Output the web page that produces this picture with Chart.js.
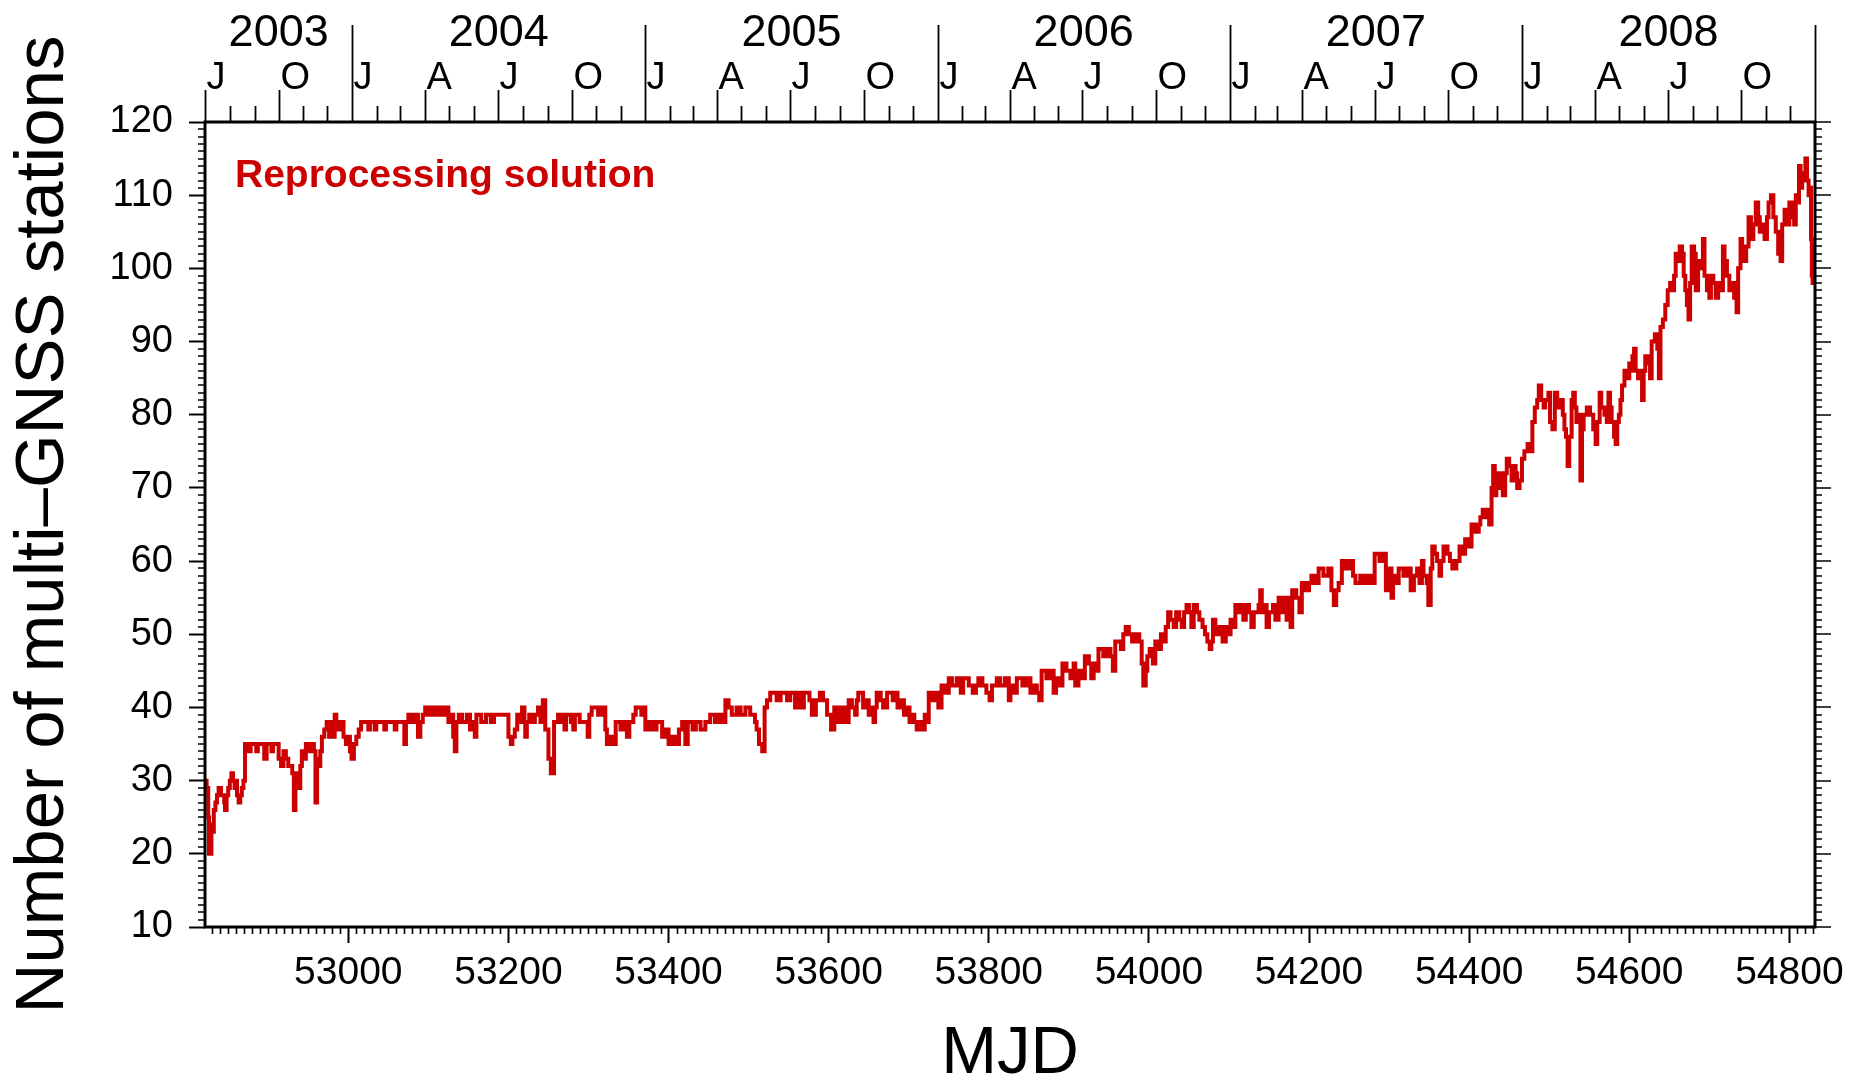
<!DOCTYPE html>
<html>
<head>
<meta charset="utf-8">
<script src="https://cdn.jsdelivr.net/npm/chart.js@4.4.1/dist/chart.umd.min.js"></script>
<style>
  html, body { margin: 0; padding: 0; background: #ffffff; }
  canvas { display: block; }
</style>
</head>
<body>
<canvas id="c" width="1862" height="1080"></canvas>
<script>
// ---------------- data ----------------
const mjd = [
  // 2003-07 .. 2004-08
  52821,52823,52825,52826,52829,52831,52832,52834,52836,52838,
  52841,52845,52846,52848,52850,52852,52854,52856,52858,52860,
  52861,52863,52865,52867,52869,52871,52876,52878,52885,52887,
  52895,52898,52904,52906,52913,52916,52919,52922,52925,52930,
  52932,52934,52936,52938,52940,52942,52945,52947,52950,52953,
  52957,52959,52961,52963,52965,52967,52970,52973,52976,52978,
  52980,52983,52985,52988,52990,52994,52997,53000,53002,53004,
  53007,53010,53013,53016,53025,53027,53033,53035,53045,53047,
  53058,53060,53070,53072,53075,53080,53083,53087,53090,53093,
  53096,53099,53103,53106,53110,53115,53120,53125,53128,53131,
  53133,53135,53138,53142,53148,53152,53154,53158,53160,53166,
  53172,53178,53182,53200,53203,53205,53208,53211,53214,53217,
  53220,
  // 2004-08 .. 2005-09
  53221,53223,53226,53230,53233,53237,53240,53243,53246,53250,
  53253,53257,53262,53267,53270,53272,53278,53281,53283,53289,
  53299,53301,53304,53312,53316,53321,53323,53327,53330,53334,
  53340,53344,53348,53351,53356,53359,53366,53369,53371,53375,
  53380,53385,53392,53396,53400,53404,53408,53413,53417,53421,
  53424,53430,53434,53440,53446,53452,53458,53463,53468,53471,
  53475,53479,53485,53490,53496,53502,53508,53510,53513,53517,
  53520,53523,53527,53535,53540,53548,53552,53558,53562,53566,
  53569,53576,53579,53584,53589,53593,53598,53603,53607,53612,
  53617,
  // 2005-09 .. 2006-10
  53621,53625,53629,53633,53635,53637,53643,53646,53650,53654,
  53656,53658,53660,53665,53668,53673,53680,53684,53686,53690,
  53694,53698,53701,53704,53707,53710,53714,53717,53720,53722,
  53725,53730,53734,53737,53741,53746,53750,53754,53760,53765,
  53768,53775,53780,53784,53787,53792,53797,53801,53804,53810,
  53814,53820,53825,53827,53831,53835,53842,53847,53852,53855,
  53860,53863,53866,53872,53876,53881,53884,53889,53892,53897,
  53902,53906,53908,53912,53916,53920,53925,53928,53931,53935,
  53937,53943,53948,53952,53955,53958,53965,53968,53971,53975,
  53979,53984,53988,53991,53993,53996,53998,54001,54005,54008,
  54012,54015,54019,
  // 2006-10 .. 2007-11
  54021,54024,54027,54031,54034,54038,54041,54044,54047,54050,
  54053,54056,54060,54063,54067,54070,54073,54076,54078,54080,
  54083,54085,54088,54092,54096,54099,54102,54106,54108,54112,
  54115,54118,54121,54125,54128,54131,54137,54139,54141,54145,
  54147,54150,54155,54158,54162,54166,54170,54172,54175,54177,
  54179,54184,54188,54191,54196,54200,54203,54207,54212,54218,
  54224,54228,54231,54234,54237,54241,54246,54250,54255,54258,
  54264,54268,54273,54277,54282,54288,54293,54296,54299,54303,
  54305,54309,54312,54318,54323,54327,54331,54335,54338,54341,
  54343,54347,54349,54352,54354,54357,54360,54363,54365,54368,
  54373,54376,54379,54384,54388,54392,54395,54400,54403,54408,
  54412,54414,54417,
  // 2007-11 .. 2008-12
  54420,54422,54425,54428,54430,54432,54434,54437,54440,54442,
  54445,54447,54450,54453,54455,54458,54460,54463,54466,54469,
  54473,54477,54479,54482,54485,54487,54490,54493,54495,54499,
  54501,54504,54507,54510,54514,54517,54519,54521,54523,54525,
  54528,54530,54532,54534,54537,54539,54541,54543,54547,54551,
  54555,54558,54560,54563,54565,54569,54572,54574,54576,54578,
  54581,54583,54585,54587,54589,54591,54594,54597,54600,54602,
  54604,54606,54608,54611,54614,54616,54618,54620,54624,54626,
  54628,54632,54635,54637,54639,54642,54645,54648,54651,54654,
  54656,54658,54661,54663,54666,54668,54670,54672,54674,54676,
  54678,54681,54683,54686,54689,54692,54694,54697,54700,54702,
  54705,54708,54711,54714,54717,54719,54722,54725,54728,54731,
  54734,54736,54739,54741,54744,54746,54749,54752,54755,54758,
  54761,54763,54766,54769,54772,54774,54777,54780,54783,54786,
  54789,54791,54794,54797,54800,54803,54806,54808,54810,54812,
  54814,54816,54818,54820,54822,54824,54826,54827,54828,54829,
  54830,54831
];
const stations = [
  30,29,25,20,24,23,26,27,28,29,
  28,27,26,28,29,30,31,30,29,30,
  28,27,28,29,30,35,34,35,34,35,
  33,35,34,35,33,32,34,33,32,31,
  26,31,30,29,32,34,33,35,34,35,
  34,27,33,32,34,36,37,38,36,38,
  36,39,38,37,38,36,35,36,34,33,
  35,36,37,38,37,38,37,38,37,38,
  37,38,35,38,39,38,39,36,38,39,
  40,39,40,39,40,39,40,38,39,36,
  34,38,39,38,39,37,38,36,39,38,
  39,38,39,36,35,36,37,39,38,40,
  38,

  36,38,39,38,39,40,38,41,37,33,
  31,38,39,38,37,39,38,37,39,38,
  36,39,40,39,40,37,35,36,35,38,
  37,38,36,38,39,40,39,40,37,38,
  37,38,36,37,35,36,35,37,38,35,
  38,37,38,37,38,39,38,39,38,41,
  40,39,40,39,40,39,38,37,35,34,
  40,41,42,41,42,41,42,40,42,40,
  42,41,39,41,42,41,39,37,40,38,
  40,

  38,41,40,39,41,42,40,41,39,40,
  38,40,42,41,40,42,41,42,40,41,
  39,40,38,39,38,37,38,37,39,38,
  42,41,42,40,43,42,44,43,44,42,
  44,43,42,43,44,43,42,41,43,44,
  43,44,41,43,42,44,43,44,42,43,
  42,41,45,44,45,42,44,43,46,45,
  44,46,43,45,44,47,46,44,46,45,
  48,47,48,47,45,49,48,50,51,50,
  49,50,49,46,43,45,47,48,46,49,
  48,50,49,

  51,53,52,51,53,52,51,53,54,53,
  51,54,53,52,51,50,49,48,49,52,
  51,50,51,49,51,50,52,51,54,53,
  54,52,54,53,51,53,54,56,53,54,
  51,53,54,52,55,53,55,52,55,51,
  56,55,53,57,56,57,58,57,59,58,
  59,56,54,56,57,60,59,60,58,57,
  58,57,58,57,61,60,61,56,59,55,
  58,57,59,58,59,56,58,59,57,60,
  58,57,54,59,62,61,60,58,60,62,
  61,60,59,60,62,61,63,62,65,64,
  65,66,67,

  66,67,65,70,73,69,72,70,72,69,
  72,74,73,71,73,72,70,71,74,75,
  76,75,79,81,82,84,82,81,82,83,
  79,78,83,81,82,80,78,77,73,77,
  82,83,81,79,80,71,78,80,81,80,
  78,76,79,83,81,80,79,83,81,79,
  77,76,79,80,82,84,86,85,87,86,
  88,89,86,85,86,82,86,88,87,85,
  90,91,89,85,92,93,95,97,98,97,
  99,102,101,103,102,99,97,95,93,98,
  103,102,97,101,100,104,99,97,96,99,
  98,96,98,97,103,101,99,97,98,96,
  94,100,104,102,101,103,107,104,106,109,
  107,105,106,104,107,109,110,107,105,102,
  101,106,108,106,109,107,106,110,109,114,
  111,113,112,115,112,110,111,104,99,98,
  103,98
];
const xTickValues = [53000, 53200, 53400, 53600, 53800, 54000, 54200, 54400, 54600, 54800];
const xTickLabels = ['53000', '53200', '53400', '53600', '53800', '54000', '54200', '54400', '54600', '54800'];
const yTickValues = [10, 20, 30, 40, 50, 60, 70, 80, 90, 100, 110, 120];
const yTickLabels = ['10', '20', '30', '40', '50', '60', '70', '80', '90', '100', '110', '120'];
const years = [2003, 2004, 2005, 2006, 2007, 2008];
const yearLabels = ['2003', '2004', '2005', '2006', '2007', '2008'];
const quarterLetters = ['J', 'A', 'J', 'O'];   // Jan, Apr, Jul, Oct
const seriesLabel = 'Reprocessing solution';
const xTitle = 'MJD';
const yTitle = 'Number of multi\u2013GNSS stations';
const xMin = 52821, xMax = 54832;

// ---------------- drawing ----------------
const FONT = '"Liberation Sans", Arial, Helvetica, sans-serif';
const toMJD = (y, m) => Date.UTC(y, m, 1) / 86400000 + 40587;

const framePlugin = {
  id: 'frameAndCalendar',
  afterDraw(chart) {
    const { ctx, chartArea: a, scales } = chart;
    const xs = scales.x, ys = scales.y;
    ctx.save();
    ctx.strokeStyle = '#000';
    ctx.fillStyle = '#000';

    // minor ticks: bottom every 10 days, left/right every unit, right majors
    ctx.lineWidth = 1.6;
    ctx.beginPath();
    for (let v = Math.ceil(xMin / 10) * 10; v <= xMax; v += 10) {
      if (xTickValues.includes(v)) continue;
      const px = Math.round(xs.getPixelForValue(v)) + 0.5;
      ctx.moveTo(px, a.bottom); ctx.lineTo(px, a.bottom + 7);
    }
    for (let v = 10; v <= 120; v++) {
      const py = Math.round(ys.getPixelForValue(v));
      if (v % 10 === 0) {
        ctx.moveTo(a.right, py); ctx.lineTo(a.right + 16, py);
      } else {
        ctx.moveTo(a.left - 7, py); ctx.lineTo(a.left, py);
        ctx.moveTo(a.right, py); ctx.lineTo(a.right + 7, py);
      }
    }
    ctx.stroke();

    // top calendar axis
    ctx.lineWidth = 1.8;
    ctx.beginPath();
    const labels = [];
    years.forEach((yr) => {
      for (let m = 0; m < 12; m++) {
        const d = toMJD(yr, m);
        if (d < xMin || d > xMax) continue;
        const px = Math.round(xs.getPixelForValue(d)) + 0.5;
        let top;
        if (m === 0) top = 25;
        else if (m % 3 === 0) top = a.top - 32;
        else top = a.top - 16;
        if (d === xMin) top = a.top - 32;
        ctx.moveTo(px, a.top); ctx.lineTo(px, top);
        if (m % 3 === 0) labels.push([quarterLetters[m / 3], px]);
      }
    });
    const endPx = Math.round(xs.getPixelForValue(toMJD(years[years.length - 1] + 1, 0))) + 0.5;
    ctx.moveTo(endPx, a.top); ctx.lineTo(endPx, 25);
    ctx.stroke();

    ctx.font = '38px ' + FONT;
    ctx.textAlign = 'left';
    ctx.textBaseline = 'alphabetic';
    labels.forEach(([t, px]) => ctx.fillText(t, px + 1, 89));

    ctx.font = '45px ' + FONT;
    ctx.textAlign = 'center';
    years.forEach((yr, i) => {
      const s = Math.max(toMJD(yr, 0), xMin);
      const e = Math.min(toMJD(yr + 1, 0), xMax);
      const cx = (xs.getPixelForValue(s) + xs.getPixelForValue(e)) / 2;
      ctx.fillText(yearLabels[i], cx, 46);
    });

    // frame
    ctx.lineWidth = 3;
    ctx.strokeRect(a.left, a.top, a.right - a.left, a.bottom - a.top);

    // series label
    ctx.fillStyle = '#cc0000';
    ctx.font = 'bold 39px ' + FONT;
    ctx.textAlign = 'left';
    ctx.fillText(seriesLabel, 235, 187);
    ctx.restore();
  }
};

new Chart(document.getElementById('c'), {
  type: 'line',
  data: {
    datasets: [{
      label: seriesLabel,
      data: mjd.map((m, i) => ({ x: m, y: stations[i] })),
      borderColor: '#cc0000',
      backgroundColor: '#cc0000',
      borderWidth: 4,
      pointRadius: 0,
      stepped: true,
      fill: false
    }]
  },
  options: {
    responsive: false,
    animation: false,
    devicePixelRatio: 1,
    layout: { padding: { top: 122, right: 47, left: 0, bottom: 0 } },
    plugins: { legend: { display: false }, tooltip: { enabled: false } },
    scales: {
      x: {
        type: 'linear',
        min: xMin, max: xMax,
        afterBuildTicks: (s) => { s.ticks = xTickValues.map(v => ({ value: v })); },
        afterFit: (s) => { s.height = 153; },
        ticks: {
          color: '#000', padding: 7, maxRotation: 0, autoSkip: false,
          font: { family: FONT, size: 39 },
          callback: (v, i) => xTickLabels[i]
        },
        grid: { display: true, drawOnChartArea: false, drawTicks: true, tickLength: 16, tickWidth: 2, tickColor: '#000' },
        border: { display: false },
        title: {
          display: true, text: xTitle, color: '#000',
          font: { family: FONT, size: 67, lineHeight: 0.7 },
          padding: { top: 0, bottom: 2 }
        }
      },
      y: {
        type: 'linear',
        min: 10, max: 120,
        afterBuildTicks: (s) => { s.ticks = yTickValues.map(v => ({ value: v })); },
        afterFit: (s) => { s.width = 205; },
        ticks: {
          color: '#000', padding: 16, autoSkip: false,
          font: { family: FONT, size: 38 },
          callback: (v, i) => yTickLabels[i]
        },
        grid: { display: true, drawOnChartArea: false, drawTicks: true, tickLength: 16, tickWidth: 2, tickColor: '#000' },
        border: { display: false },
        title: {
          display: true, text: yTitle, color: '#000',
          font: { family: FONT, size: 69, lineHeight: 1.2 },
          padding: { top: 3, bottom: 0 }
        }
      }
    }
  },
  plugins: [framePlugin]
});
</script>
</body>
</html>
